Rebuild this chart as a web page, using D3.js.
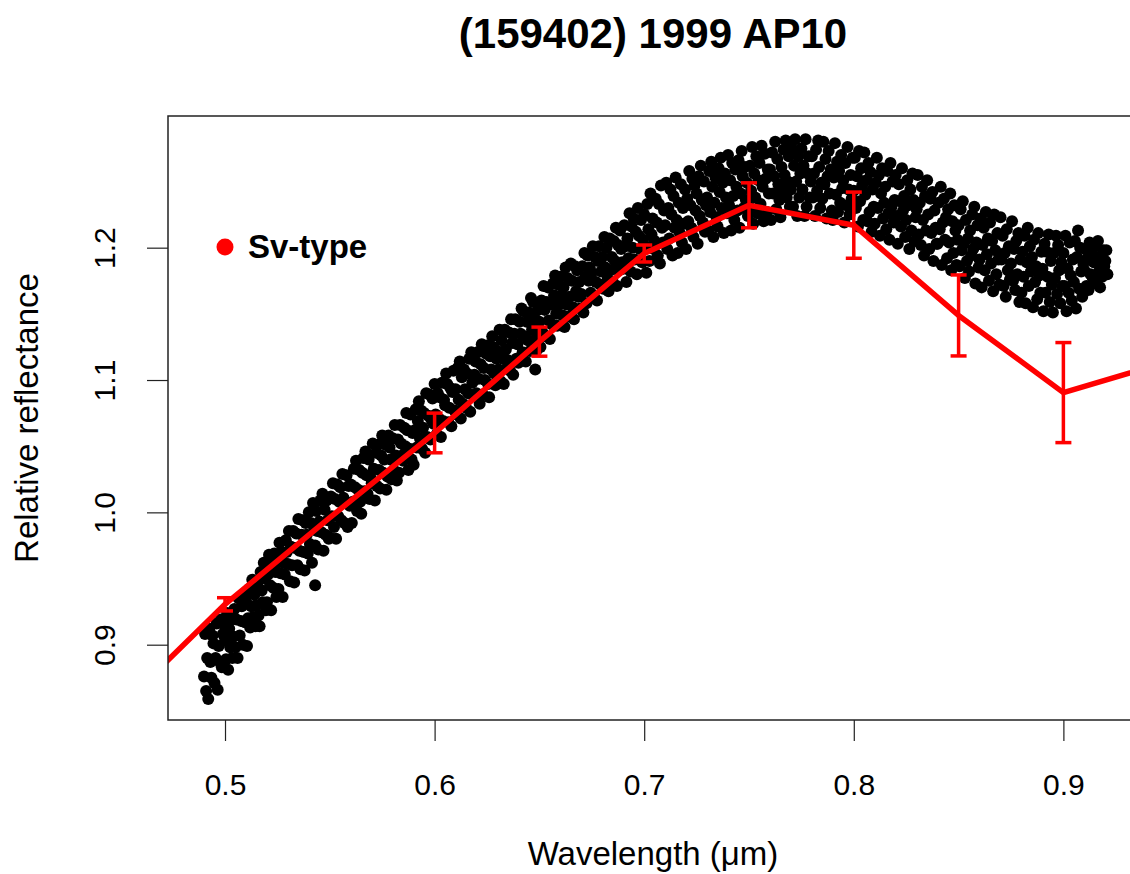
<!DOCTYPE html>
<html>
<head>
<meta charset="utf-8">
<script src="https://cdn.jsdelivr.net/npm/d3@7"></script>
<style>
body { margin: 0; background: white; }
text { font-family: "Liberation Sans", Arial, Helvetica, sans-serif; fill: black; }
</style>
</head>
<body>
<svg id="chart"></svg>
<script>
// reflectance spectrum of (159402) 1999 AP10 with Sv-type template
var W = 1130;
var H = 874;
var box = {left: 168, right: 1138, top: 116, bottom: 720};

var xTicks = [0.5, 0.6, 0.7, 0.8, 0.9];
var yTicks = [0.9, 1.0, 1.1, 1.2];

// Sv-type template (wavelength, reflectance, error)
var svWl   = [0.45,  0.50,   0.55,  0.60,  0.65,  0.70,   0.75,  0.80,  0.85,   0.90,   0.95];
var svRefl = [0.853, 0.9305, 0.996, 1.060, 1.129, 1.1956, 1.232, 1.217, 1.1488, 1.0905, 1.114];
var svErr  = [0,     0.005,  0,     0.015, 0.011, 0.0064, 0.017, 0.025, 0.0306, 0.0378, 0];

// measured spectrum [wavelength um, relative reflectance]
var spectrum = [
[0.4900,0.876],[0.4905,0.908],[0.4910,0.865],[0.4915,0.890],[0.4920,0.859],[0.4925,0.912],[0.4930,0.887],[0.4935,0.875],[0.4940,0.907],[0.4945,0.901],
[0.4950,0.871],[0.4955,0.890],[0.4960,0.916],[0.4965,0.866],[0.4970,0.899],[0.4975,0.887],[0.4980,0.919],[0.4985,0.883],[0.4990,0.908],[0.4995,0.915],
[0.5000,0.903],[0.5005,0.889],[0.5010,0.924],[0.5015,0.881],[0.5020,0.912],[0.5025,0.898],[0.5030,0.919],[0.5035,0.890],[0.5040,0.906],[0.5045,0.927],
[0.5050,0.898],[0.5055,0.919],[0.5060,0.890],[0.5065,0.935],[0.5070,0.907],[0.5075,0.918],[0.5080,0.929],[0.5085,0.900],[0.5090,0.936],[0.5095,0.917],
[0.5100,0.933],[0.5105,0.899],[0.5110,0.920],[0.5115,0.942],[0.5120,0.913],[0.5125,0.929],[0.5130,0.949],[0.5135,0.921],[0.5140,0.938],[0.5145,0.914],
[0.5150,0.930],[0.5155,0.946],[0.5160,0.922],[0.5165,0.914],[0.5170,0.955],[0.5175,0.941],[0.5180,0.932],[0.5185,0.962],[0.5190,0.950],[0.5195,0.926],
[0.5200,0.932],[0.5205,0.953],[0.5210,0.968],[0.5215,0.945],[0.5220,0.926],[0.5225,0.962],[0.5230,0.943],[0.5235,0.969],[0.5240,0.955],[0.5245,0.936],
[0.5250,0.962],[0.5255,0.942],[0.5260,0.977],[0.5265,0.954],[0.5270,0.970],[0.5275,0.936],[0.5280,0.962],[0.5285,0.953],[0.5290,0.979],[0.5295,0.970],
[0.5300,0.961],[0.5305,0.986],[0.5310,0.948],[0.5315,0.974],[0.5320,0.960],[0.5325,0.986],[0.5330,0.947],[0.5335,0.973],[0.5340,0.984],[0.5345,0.960],
[0.5350,0.995],[0.5355,0.971],[0.5360,0.957],[0.5365,0.983],[0.5370,0.994],[0.5375,0.970],[0.5380,0.956],[0.5385,0.992],[0.5390,0.983],[0.5395,0.969],
[0.5400,1.000],[0.5405,0.976],[0.5410,0.992],[0.5415,0.962],[0.5420,1.007],[0.5425,0.989],[0.5430,0.975],[0.5435,1.001],[0.5440,0.986],[0.5445,0.972],
[0.5450,0.993],[0.5455,1.009],[0.5460,0.985],[0.5465,1.014],[0.5470,0.971],[0.5475,1.002],[0.5480,0.983],[0.5485,1.009],[0.5490,0.994],[0.5495,0.980],
[0.5430,0.945],
[0.5500,0.981],[0.5505,1.012],[0.5510,0.997],[0.5515,1.022],[0.5520,0.989],[0.5525,1.010],[0.5530,0.980],[0.5535,1.021],[0.5540,0.997],[0.5545,1.008],
[0.5550,1.019],[0.5555,0.994],[0.5560,1.029],[0.5565,1.011],[0.5570,0.992],[0.5575,1.007],[0.5580,1.028],[0.5585,0.989],[0.5590,1.020],[0.5595,1.005],
[0.5600,1.021],[0.5605,0.992],[0.5610,1.008],[0.5615,1.033],[0.5620,1.019],[0.5625,1.039],[0.5630,1.001],[0.5635,1.017],[0.5640,1.032],[0.5645,1.008],
[0.5650,0.999],[0.5655,1.030],[0.5660,1.041],[0.5665,1.016],[0.5670,1.046],[0.5675,1.028],[0.5680,1.014],[0.5685,1.040],[0.5690,1.010],[0.5695,1.026],
[0.5700,1.022],[0.5705,1.052],[0.5710,1.033],[0.5715,1.009],[0.5720,1.045],[0.5725,1.020],[0.5730,1.051],[0.5735,1.032],[0.5740,1.018],[0.5745,1.043],
[0.5750,1.058],[0.5755,1.030],[0.5760,1.040],[0.5765,1.051],[0.5770,1.017],[0.5775,1.027],[0.5780,1.058],[0.5785,1.049],[0.5790,1.040],[0.5795,1.025],
[0.5800,1.056],[0.5805,1.032],[0.5810,1.066],[0.5815,1.043],[0.5820,1.024],[0.5825,1.055],[0.5830,1.030],[0.5835,1.066],[0.5840,1.052],[0.5845,1.043],
[0.5850,1.039],[0.5855,1.064],[0.5860,1.050],[0.5865,1.075],[0.5870,1.062],[0.5875,1.032],[0.5880,1.048],[0.5885,1.074],[0.5890,1.040],[0.5895,1.060],
[0.5900,1.036],[0.5905,1.062],[0.5910,1.078],[0.5915,1.049],[0.5920,1.069],[0.5925,1.084],[0.5930,1.056],[0.5935,1.077],[0.5940,1.048],[0.5945,1.064],
[0.5950,1.075],[0.5955,1.045],[0.5960,1.090],[0.5965,1.057],[0.5970,1.073],[0.5975,1.089],[0.5980,1.055],[0.5985,1.070],[0.5990,1.086],[0.5995,1.067],
[0.6000,1.097],[0.6005,1.074],[0.6010,1.059],[0.6015,1.090],[0.6020,1.071],[0.6025,1.087],[0.6030,1.057],[0.6035,1.098],[0.6040,1.069],[0.6045,1.085],
[0.6050,1.081],[0.6055,1.105],[0.6060,1.097],[0.6065,1.068],[0.6070,1.079],[0.6075,1.094],[0.6080,1.065],[0.6085,1.091],[0.6090,1.107],[0.6095,1.077],
[0.6100,1.093],[0.6105,1.074],[0.6110,1.109],[0.6115,1.085],[0.6120,1.114],[0.6125,1.071],[0.6130,1.102],[0.6135,1.082],[0.6140,1.108],[0.6145,1.093],
[0.6150,1.079],[0.6155,1.105],[0.6160,1.090],[0.6165,1.116],[0.6170,1.076],[0.6175,1.121],[0.6180,1.098],[0.6185,1.088],[0.6190,1.104],[0.6195,1.114],
[0.6200,1.090],[0.6205,1.121],[0.6210,1.101],[0.6215,1.082],[0.6220,1.112],[0.6225,1.127],[0.6230,1.089],[0.6235,1.109],[0.6240,1.100],[0.6245,1.120],
[0.6250,1.126],[0.6255,1.097],[0.6260,1.087],[0.6265,1.118],[0.6270,1.108],[0.6275,1.133],[0.6280,1.125],[0.6285,1.105],[0.6290,1.096],[0.6295,1.116],
[0.6300,1.122],[0.6305,1.108],[0.6310,1.138],[0.6315,1.099],[0.6320,1.130],[0.6325,1.116],[0.6330,1.097],[0.6335,1.138],[0.6340,1.123],[0.6345,1.109],
[0.6350,1.115],[0.6355,1.136],[0.6360,1.107],[0.6365,1.146],[0.6370,1.128],[0.6375,1.104],[0.6380,1.135],[0.6385,1.146],[0.6390,1.116],[0.6395,1.127],
[0.6400,1.113],[0.6405,1.144],[0.6410,1.135],[0.6415,1.154],[0.6420,1.121],[0.6425,1.152],[0.6430,1.133],[0.6435,1.114],[0.6440,1.144],[0.6445,1.130],
[0.6450,1.151],[0.6455,1.122],[0.6460,1.162],[0.6465,1.138],[0.6470,1.159],[0.6475,1.130],[0.6480,1.146],[0.6485,1.122],[0.6490,1.137],[0.6495,1.153],
[0.6480,1.108],
[0.6500,1.144],[0.6505,1.125],[0.6510,1.160],[0.6515,1.136],[0.6520,1.171],[0.6525,1.153],[0.6530,1.133],[0.6535,1.159],[0.6540,1.170],[0.6545,1.145],
[0.6550,1.131],[0.6555,1.157],[0.6560,1.142],[0.6565,1.173],[0.6570,1.164],[0.6575,1.179],[0.6580,1.150],[0.6585,1.141],[0.6590,1.172],[0.6595,1.157],
[0.6600,1.178],[0.6605,1.164],[0.6610,1.149],[0.6615,1.170],[0.6620,1.140],[0.6625,1.185],[0.6630,1.157],[0.6635,1.177],[0.6640,1.148],[0.6645,1.163],
[0.6650,1.188],[0.6655,1.175],[0.6660,1.155],[0.6665,1.146],[0.6670,1.186],[0.6675,1.167],[0.6680,1.183],[0.6685,1.163],[0.6690,1.174],[0.6695,1.154],
[0.6700,1.165],[0.6705,1.186],[0.6710,1.151],[0.6715,1.196],[0.6720,1.178],[0.6725,1.158],[0.6730,1.194],[0.6735,1.175],[0.6740,1.185],[0.6745,1.166],
[0.6750,1.181],[0.6755,1.201],[0.6760,1.163],[0.6765,1.193],[0.6770,1.174],[0.6775,1.160],[0.6780,1.190],[0.6785,1.201],[0.6790,1.172],[0.6795,1.182],
[0.6800,1.193],[0.6805,1.169],[0.6810,1.208],[0.6815,1.185],[0.6820,1.200],[0.6825,1.176],[0.6830,1.167],[0.6835,1.207],[0.6840,1.183],[0.6845,1.193],
[0.6850,1.174],[0.6855,1.205],[0.6860,1.190],[0.6865,1.215],[0.6870,1.171],[0.6875,1.202],[0.6880,1.183],[0.6885,1.213],[0.6890,1.199],[0.6895,1.189],
[0.6900,1.184],[0.6905,1.217],[0.6910,1.201],[0.6915,1.174],[0.6920,1.207],[0.6925,1.192],[0.6930,1.226],[0.6935,1.182],[0.6940,1.216],[0.6945,1.200],
[0.6950,1.222],[0.6955,1.191],[0.6960,1.212],[0.6965,1.180],[0.6970,1.230],[0.6975,1.209],[0.6980,1.199],[0.6985,1.221],[0.6990,1.189],[0.6995,1.206],
[0.7000,1.225],[0.7005,1.201],[0.7010,1.181],[0.7015,1.233],[0.7020,1.214],[0.7025,1.190],[0.7030,1.241],[0.7035,1.210],[0.7040,1.222],[0.7045,1.199],
[0.7050,1.205],[0.7055,1.237],[0.7060,1.219],[0.7065,1.194],[0.7070,1.233],[0.7075,1.188],[0.7080,1.247],[0.7085,1.215],[0.7090,1.204],[0.7095,1.228],
[0.7100,1.217],[0.7105,1.249],[0.7110,1.199],[0.7115,1.230],[0.7120,1.207],[0.7125,1.244],[0.7130,1.225],[0.7135,1.194],[0.7140,1.239],[0.7145,1.215],
[0.7150,1.253],[0.7155,1.221],[0.7160,1.196],[0.7165,1.234],[0.7170,1.211],[0.7175,1.248],[0.7180,1.204],[0.7185,1.230],[0.7190,1.218],[0.7195,1.244],
[0.7200,1.199],[0.7205,1.237],[0.7210,1.220],[0.7215,1.258],[0.7220,1.232],[0.7225,1.215],[0.7230,1.252],[0.7235,1.208],[0.7240,1.247],[0.7245,1.228],
[0.7250,1.241],[0.7255,1.203],[0.7260,1.254],[0.7265,1.224],[0.7270,1.262],[0.7275,1.236],[0.7280,1.219],[0.7285,1.250],[0.7290,1.212],[0.7295,1.232],
[0.7300,1.238],[0.7305,1.213],[0.7310,1.258],[0.7315,1.227],[0.7320,1.265],[0.7325,1.246],[0.7330,1.208],[0.7335,1.234],[0.7340,1.253],[0.7345,1.223],
[0.7350,1.216],[0.7355,1.260],[0.7360,1.242],[0.7365,1.268],[0.7370,1.230],[0.7375,1.249],[0.7380,1.211],[0.7385,1.256],[0.7390,1.238],[0.7395,1.226],
[0.7400,1.270],[0.7405,1.232],[0.7410,1.251],[0.7415,1.213],[0.7420,1.264],[0.7425,1.239],[0.7430,1.221],[0.7435,1.259],[0.7440,1.246],[0.7445,1.228],
[0.7450,1.266],[0.7455,1.215],[0.7460,1.241],[0.7465,1.273],[0.7470,1.254],[0.7475,1.230],[0.7480,1.261],[0.7485,1.236],[0.7490,1.249],[0.7495,1.224],
[0.7500,1.231],[0.7505,1.262],[0.7510,1.243],[0.7515,1.276],[0.7520,1.218],[0.7525,1.256],[0.7530,1.238],[0.7535,1.269],[0.7540,1.226],[0.7545,1.251],
[0.7550,1.264],[0.7555,1.233],[0.7560,1.277],[0.7565,1.246],[0.7570,1.220],[0.7575,1.271],[0.7580,1.252],[0.7585,1.227],[0.7590,1.259],[0.7595,1.241],
[0.7600,1.259],[0.7605,1.221],[0.7610,1.272],[0.7615,1.241],[0.7620,1.254],[0.7625,1.280],[0.7630,1.229],[0.7635,1.267],[0.7640,1.248],[0.7645,1.236],
[0.7650,1.223],[0.7655,1.261],[0.7660,1.243],[0.7665,1.274],[0.7670,1.255],[0.7675,1.281],[0.7680,1.238],[0.7685,1.250],[0.7690,1.269],[0.7695,1.231],
[0.7700,1.244],[0.7705,1.275],[0.7710,1.231],[0.7715,1.262],[0.7720,1.282],[0.7725,1.250],[0.7730,1.224],[0.7735,1.269],[0.7740,1.238],[0.7745,1.256],
[0.7750,1.275],[0.7755,1.244],[0.7760,1.262],[0.7765,1.224],[0.7770,1.282],[0.7775,1.231],[0.7780,1.256],[0.7785,1.269],[0.7790,1.238],[0.7795,1.250],
[0.7800,1.269],[0.7805,1.238],[0.7810,1.256],[0.7815,1.224],[0.7820,1.274],[0.7825,1.243],[0.7830,1.281],[0.7835,1.261],[0.7840,1.230],[0.7845,1.249],
[0.7850,1.237],[0.7855,1.280],[0.7860,1.248],[0.7865,1.267],[0.7870,1.222],[0.7875,1.254],[0.7880,1.273],[0.7885,1.241],[0.7890,1.259],[0.7895,1.228],
[0.7900,1.221],[0.7905,1.253],[0.7910,1.279],[0.7915,1.240],[0.7920,1.265],[0.7925,1.227],[0.7930,1.258],[0.7935,1.234],[0.7940,1.270],[0.7945,1.245],
[0.7950,1.251],[0.7955,1.219],[0.7960,1.264],[0.7965,1.232],[0.7970,1.276],[0.7975,1.244],[0.7980,1.225],[0.7985,1.255],[0.7990,1.237],[0.7995,1.268],
[0.8000,1.243],[0.8005,1.268],[0.8010,1.230],[0.8015,1.254],[0.8020,1.216],[0.8025,1.273],[0.8030,1.235],[0.8035,1.260],[0.8040,1.247],[0.8045,1.221],
[0.8050,1.272],[0.8055,1.240],[0.8060,1.251],[0.8065,1.220],[0.8070,1.264],[0.8075,1.227],[0.8080,1.257],[0.8085,1.212],[0.8090,1.244],[0.8095,1.231],
[0.8100,1.218],[0.8105,1.249],[0.8110,1.268],[0.8115,1.230],[0.8120,1.255],[0.8125,1.209],[0.8130,1.241],[0.8135,1.260],[0.8140,1.222],[0.8145,1.234],
[0.8150,1.246],[0.8155,1.214],[0.8160,1.258],[0.8165,1.226],[0.8170,1.206],[0.8175,1.264],[0.8180,1.231],[0.8185,1.250],[0.8190,1.219],[0.8195,1.236],
[0.8200,1.255],[0.8205,1.224],[0.8210,1.203],[0.8215,1.248],[0.8220,1.235],[0.8225,1.216],[0.8230,1.260],[0.8235,1.228],[0.8240,1.239],[0.8245,1.208],
[0.8250,1.221],[0.8255,1.251],[0.8260,1.232],[0.8265,1.199],[0.8270,1.244],[0.8275,1.213],[0.8280,1.256],[0.8285,1.236],[0.8290,1.205],[0.8295,1.223],
[0.8300,1.229],[0.8305,1.255],[0.8310,1.210],[0.8315,1.234],[0.8320,1.202],[0.8325,1.246],[0.8330,1.221],[0.8335,1.194],[0.8340,1.239],[0.8345,1.213],
[0.8350,1.251],[0.8355,1.225],[0.8360,1.199],[0.8365,1.237],[0.8370,1.211],[0.8375,1.242],[0.8380,1.190],[0.8385,1.228],[0.8390,1.215],[0.8395,1.203],
[0.8400,1.203],[0.8405,1.234],[0.8410,1.214],[0.8415,1.246],[0.8420,1.187],[0.8425,1.219],[0.8430,1.237],[0.8435,1.206],[0.8440,1.223],[0.8445,1.192],
[0.8450,1.229],[0.8455,1.204],[0.8460,1.241],[0.8465,1.183],[0.8470,1.220],[0.8475,1.196],[0.8480,1.232],[0.8485,1.213],[0.8490,1.187],[0.8495,1.206],
[0.8500,1.217],[0.8505,1.186],[0.8510,1.229],[0.8515,1.198],[0.8520,1.235],[0.8525,1.203],[0.8530,1.177],[0.8535,1.221],[0.8540,1.190],[0.8545,1.207],
[0.8550,1.182],[0.8555,1.213],[0.8560,1.194],[0.8565,1.225],[0.8570,1.199],[0.8575,1.231],[0.8580,1.173],[0.8585,1.204],[0.8590,1.217],[0.8595,1.185],
[0.8600,1.191],[0.8605,1.222],[0.8610,1.170],[0.8615,1.202],[0.8620,1.215],[0.8625,1.183],[0.8630,1.227],[0.8635,1.195],[0.8640,1.207],[0.8645,1.175],
[0.8650,1.219],[0.8655,1.188],[0.8660,1.205],[0.8665,1.167],[0.8670,1.225],[0.8675,1.198],[0.8680,1.180],[0.8685,1.211],[0.8690,1.191],[0.8695,1.172],
[0.8700,1.223],[0.8705,1.191],[0.8710,1.209],[0.8715,1.171],[0.8720,1.196],[0.8725,1.163],[0.8730,1.214],[0.8735,1.183],[0.8740,1.201],[0.8745,1.176],
[0.8750,1.188],[0.8755,1.220],[0.8760,1.175],[0.8765,1.199],[0.8770,1.168],[0.8775,1.205],[0.8780,1.180],[0.8785,1.211],[0.8790,1.159],[0.8795,1.191],
[0.8800,1.166],[0.8805,1.197],[0.8810,1.178],[0.8815,1.209],[0.8820,1.158],[0.8825,1.189],[0.8830,1.215],[0.8835,1.171],[0.8840,1.201],[0.8845,1.182],
[0.8850,1.193],[0.8855,1.155],[0.8860,1.206],[0.8865,1.174],[0.8870,1.186],[0.8875,1.161],[0.8880,1.211],[0.8885,1.179],[0.8890,1.166],[0.8895,1.197],
[0.8900,1.184],[0.8905,1.152],[0.8910,1.203],[0.8915,1.166],[0.8920,1.197],[0.8925,1.178],[0.8930,1.210],[0.8935,1.159],[0.8940,1.190],[0.8945,1.172],
[0.8950,1.151],[0.8955,1.196],[0.8960,1.177],[0.8965,1.209],[0.8970,1.165],[0.8975,1.202],[0.8980,1.183],[0.8985,1.158],[0.8990,1.189],[0.8995,1.171],
[0.9000,1.196],[0.9005,1.171],[0.9010,1.209],[0.9015,1.152],[0.9020,1.184],[0.9025,1.166],[0.9030,1.204],[0.9035,1.179],[0.9040,1.160],[0.9045,1.191],
[0.9050,1.174],[0.9055,1.205],[0.9060,1.154],[0.9065,1.193],[0.9070,1.213],[0.9075,1.169],[0.9080,1.200],[0.9085,1.182],[0.9090,1.163],[0.9095,1.188],
[0.9100,1.183],[0.9105,1.199],[0.9110,1.171],[0.9115,1.192],[0.9120,1.168],[0.9125,1.204],[0.9130,1.180],[0.9135,1.196],[0.9140,1.177],[0.9145,1.189],
[0.9150,1.201],[0.9155,1.173],[0.9160,1.189],[0.9165,1.205],[0.9170,1.182],[0.9175,1.170],[0.9180,1.194],[0.9185,1.178],[0.9190,1.198],[0.9195,1.186],
[0.9200,1.190],[0.9205,1.198],[0.9210,1.180]
];

var svg = d3.select("#chart")
  .attr("width", W)
  .attr("height", H);

svg.append("rect")
  .attr("width", "100%")
  .attr("height", "100%")
  .attr("fill", "white");

x = d3.scaleLinear()
  .domain([0.4728, 0.9356])
  .range([box.left, box.right]);

y = d3.scaleLinear()
  .domain([0.8431, 1.2995])
  .range([box.bottom, box.top]);

svg.append("clipPath")
  .attr("id", "plotclip")
  .append("rect")
  .attr("x", box.left)
  .attr("y", box.top)
  .attr("width", box.right - box.left)
  .attr("height", box.bottom - box.top);

// title
svg.append("text")
  .attr("x", (box.left + box.right) / 2)
  .attr("y", 48)
  .attr("text-anchor", "middle")
  .style("font-size", "42px")
  .style("font-weight", "bold")
  .text("(159402) 1999 AP10");

var plot = svg.append("g").attr("clip-path", "url(#plotclip)");

// spectrum dots
plot.append("g")
  .selectAll("circle")
  .data(spectrum)
  .enter()
  .append("circle")
  .attr("cx", d => x(d[0]))
  .attr("cy", d => y(d[1]))
  .attr("r", 6)
  .attr("fill", "black");

// template line + error bars
var sv = svWl.map((w, i) => ({w: w, r: svRefl[i], e: svErr[i]}));

line = d3.line()
  .x(d => x(d.w))
  .y(d => y(d.r));

plot.append("path")
  .datum(sv)
  .attr("fill", "none")
  .attr("stroke", "#ff0000")
  .attr("stroke-width", 5.5)
  .attr("stroke-linejoin", "round")
  .attr("d", line);

var bars = plot.append("g")
  .attr("stroke", "#ff0000")
  .attr("stroke-width", 3.5)
  .selectAll("g")
  .data(sv.filter(d => d.e > 0))
  .enter()
  .append("g");

bars.append("line")
  .attr("x1", d => x(d.w)).attr("x2", d => x(d.w))
  .attr("y1", d => y(d.r - d.e)).attr("y2", d => y(d.r + d.e));
bars.append("line")
  .attr("x1", d => x(d.w) - 8).attr("x2", d => x(d.w) + 8)
  .attr("y1", d => y(d.r - d.e)).attr("y2", d => y(d.r - d.e));
bars.append("line")
  .attr("x1", d => x(d.w) - 8).attr("x2", d => x(d.w) + 8)
  .attr("y1", d => y(d.r + d.e)).attr("y2", d => y(d.r + d.e));

// box
svg.append("rect")
  .attr("x", box.left)
  .attr("y", box.top)
  .attr("width", box.right - box.left)
  .attr("height", box.bottom - box.top)
  .attr("fill", "none")
  .attr("stroke", "#222")
  .attr("stroke-width", 1.5);

xAxis = g => g
  .attr("transform", `translate(0,${box.bottom})`)
  .call(d3.axisBottom(x).tickValues(xTicks).tickFormat(d3.format(".1f")).tickSize(21).tickPadding(33))
  .call(g => g.select(".domain").remove());

yAxis = g => g
  .attr("transform", `translate(${box.left},0)`)
  .call(d3.axisLeft(y).tickValues(yTicks).tickFormat(d3.format(".1f")).tickSize(21))
  .call(g => g.select(".domain").remove());

var gx = svg.append("g").call(xAxis);
var gy = svg.append("g").call(yAxis);

[gx, gy].forEach(g => {
  g.attr("font-family", null).attr("font-size", null);
  g.selectAll(".tick line").attr("stroke", "#222").attr("stroke-width", 1.2);
  g.selectAll(".tick text").style("font-size", "30px");
});

// rotated y tick labels like R
gy.selectAll(".tick text")
  .attr("transform", "rotate(-90)")
  .attr("x", 0)
  .attr("y", -53)
  .attr("dy", 0)
  .attr("text-anchor", "middle");

// axis titles
svg.append("text")
  .attr("x", (box.left + box.right) / 2)
  .attr("y", 865)
  .attr("text-anchor", "middle")
  .style("font-size", "33px")
  .text("Wavelength (\u03bcm)");

svg.append("text")
  .attr("transform", `translate(38,${(box.top + box.bottom) / 2}) rotate(-90)`)
  .attr("text-anchor", "middle")
  .style("font-size", "33px")
  .text("Relative reflectance");

// legend
svg.append("circle")
  .attr("cx", 225)
  .attr("cy", 247)
  .attr("r", 8.5)
  .attr("fill", "#ff0000");

svg.append("text")
  .attr("x", 248)
  .attr("y", 258)
  .style("font-size", "33px")
  .style("font-weight", "bold")
  .text("Sv-type");
</script>
</body>
</html>
